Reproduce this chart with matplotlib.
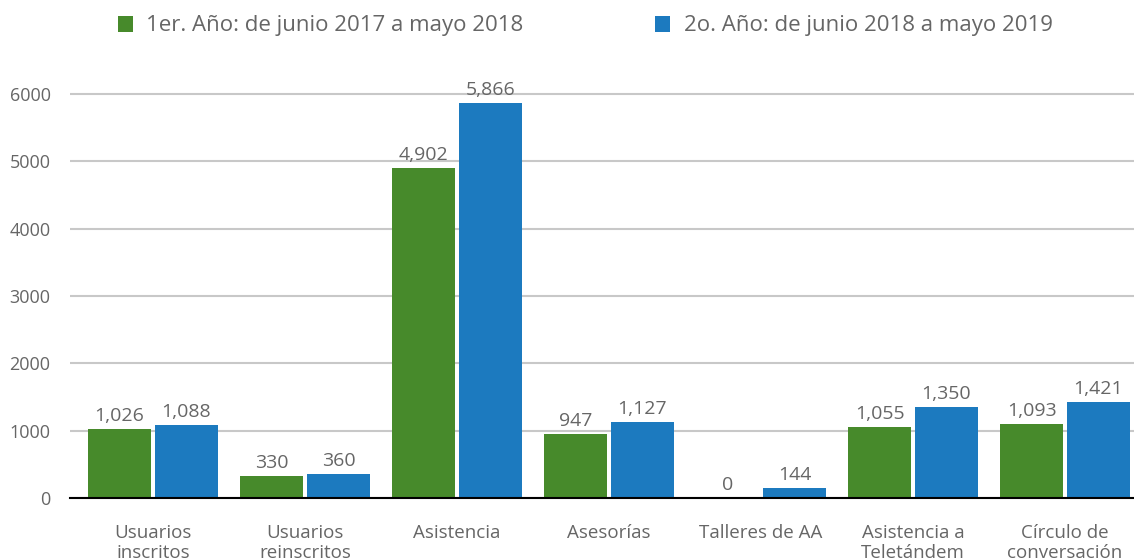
import matplotlib
matplotlib.use("Agg")
import matplotlib.pyplot as plt
import numpy as np

categories = ["Usuarios\ninscritos", "Usuarios\nreinscritos", "Asistencia", "Asesorías",
              "Talleres de AA", "Asistencia a\nTeletándem", "Círculo de\nconversación"]
series_names = ["1er. Año: de junio 2017 a mayo 2018", "2o. Año: de junio 2018 a mayo 2019"]
year1 = [1026, 330, 4902, 947, 0, 1055, 1093]
year2 = [1088, 360, 5866, 1127, 144, 1350, 1421]
yticks = [0, 1000, 2000, 3000, 4000, 5000, 6000]
colors = ["#478A2B", "#1C7ABF"]

plt.rcParams['font.family'] = ['Open Sans', 'DejaVu Sans']
txt = "#666666"

fig = plt.figure(figsize=(11.34, 5.6), dpi=100)
ax = fig.add_axes([70/1134, 1-498/560, 1-70/1134, (498-80.5)/560])

x = np.arange(len(categories))
w = 0.41
off = 0.22
b1 = ax.bar(x - off, year1, w, color=colors[0], label=series_names[0], zorder=3)
b2 = ax.bar(x + off, year2, w, color=colors[1], label=series_names[1], zorder=3)

for bars, vals in ((b1, year1), (b2, year2)):
    for r, v in zip(bars, vals):
        ax.text(r.get_x() + r.get_width()/2, v + 60, f"{v:,}", ha="center", va="bottom",
                fontsize=14, color=txt, clip_on=False)

shift = 7/152
ax.set_xlim(-0.5 - shift, len(categories) - 0.5 - shift)
ax.set_ylim(0, 6200)
ax.set_yticks(yticks)
ax.set_yticklabels([str(t) for t in yticks], fontsize=13, color=txt)
ax.set_xticks(x)
ax.set_xticklabels(categories, fontsize=13.5, color=txt, linespacing=1.15)
ax.tick_params(axis="both", length=0)
ax.tick_params(axis="x", pad=19)
ax.tick_params(axis="y", pad=14)
ax.grid(axis="y", color="#c8c8c8", linewidth=1.5, zorder=0)
for s in ["top", "right", "left"]:
    ax.spines[s].set_visible(False)
ax.spines["bottom"].set_color("#000000")
ax.spines["bottom"].set_linewidth(1.5)
ax.spines["bottom"].set_zorder(4)

leg = fig.legend(handles=[b1, b2], loc="center", bbox_to_anchor=(0.516, 1-26/560), ncol=2,
                 frameon=False, fontsize=16, handlelength=0.7, handleheight=0.7,
                 handletextpad=0.6, columnspacing=5.9)
for t in leg.get_texts():
    t.set_color(txt)

fig.savefig("out.png", dpi=100)
